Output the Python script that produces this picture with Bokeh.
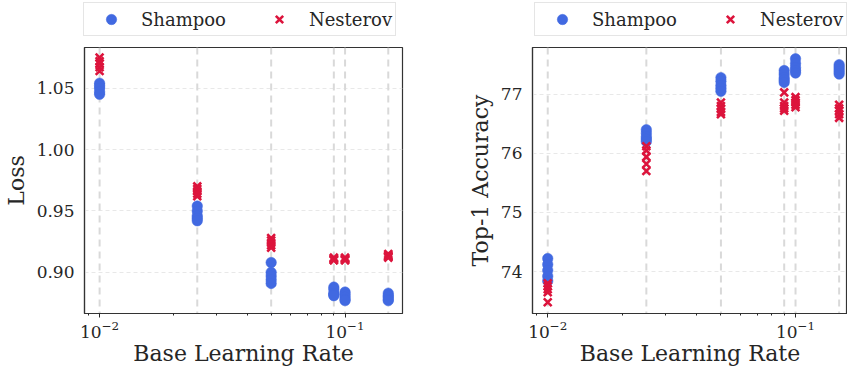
from bokeh.plotting import figure
from bokeh.models import (Range1d, FixedTicker, Span, Legend, LegendItem, LogTickFormatter,
                          NumeralTickFormatter)
from bokeh.layouts import row, column
from bokeh.embed import file_html
from bokeh.resources import INLINE

# ---------------- data ----------------
lrs = [0.01, 0.025, 0.05, 0.09, 0.1, 0.15]

loss_shampoo = [
    [1.054, 1.052, 1.050, 1.047, 1.045],
    [0.954, 0.950, 0.946, 0.944, 0.942],
    [0.908, 0.900, 0.897, 0.894, 0.891],
    [0.888, 0.886, 0.883, 0.882, 0.881],
    [0.884, 0.882, 0.880, 0.878, 0.877],
    [0.883, 0.881, 0.880, 0.878, 0.877],
]
loss_nesterov = [
    [1.075, 1.072, 1.070, 1.067, 1.064],
    [0.970, 0.968, 0.966, 0.964, 0.962],
    [0.928, 0.926, 0.924, 0.922, 0.920],
    [0.912, 0.911, 0.911, 0.910, 0.910],
    [0.912, 0.911, 0.911, 0.910, 0.910],
    [0.915, 0.914, 0.913, 0.913, 0.912],
]
acc_shampoo = [
    [74.22, 74.12, 74.02, 73.92, 73.84],
    [76.40, 76.34, 76.28, 76.24, 76.20],
    [77.28, 77.22, 77.15, 77.10, 77.05],
    [77.40, 77.34, 77.28, 77.24, 77.20],
    [77.60, 77.52, 77.45, 77.40, 77.36],
    [77.50, 77.46, 77.42, 77.38, 77.34],
]
acc_nesterov = [
    [73.80, 73.75, 73.70, 73.65, 73.48],
    [76.12, 76.05, 75.94, 75.82, 75.70],
    [76.86, 76.80, 76.75, 76.70, 76.66],
    [77.03, 76.86, 76.80, 76.76, 76.72],
    [76.95, 76.90, 76.86, 76.82, 76.78],
    [76.82, 76.76, 76.72, 76.66, 76.60],
]

loss_ticks = [0.90, 0.95, 1.00, 1.05]
acc_ticks = [74, 75, 76, 77]
x_major_ticks = [0.01, 0.1]
x_minor_ticks = [0.009, 0.02, 0.03, 0.04, 0.05, 0.06, 0.07, 0.08, 0.09, 0.2]
series_names = ["Shampoo", "Nesterov"]
xlabel = "Base Learning Rate"

# ---------------- styling ----------------
FONT = "DejaVu Serif"
TXT = "#262626"
BLUE = "#4169E1"
RED = "#DC143C"
CIRCLE_STYLE = dict(marker="circle", size=10.5, fill_color=BLUE, line_color=BLUE, line_width=0.5)
CROSS_STYLE = dict(marker="x", size=11, line_color=RED, line_width=2.6)


def flat(vals):
    xs, ys = [], []
    for lr, group in zip(lrs, vals):
        for v in group:
            xs.append(lr)
            ys.append(v)
    return xs, ys


def make_plot(shampoo, nesterov, yticks, yfmt, ylabel, xr, yr, width, border_left, border_right):
    p = figure(width=width, height=324, x_axis_type="log",
               x_range=Range1d(*xr), y_range=Range1d(*yr),
               output_backend="svg", toolbar_location=None,
               min_border_left=border_left, min_border_right=border_right,
               min_border_top=1, min_border_bottom=57)
    p.outline_line_color = "#333333"
    p.outline_line_width = 1.2
    p.background_fill_color = "white"
    p.border_fill_color = "white"

    # grid
    p.xgrid.grid_line_color = None
    p.ygrid.ticker = FixedTicker(ticks=yticks)
    p.ygrid.grid_line_color = "#e8e8e8"
    p.ygrid.grid_line_dash = "4 3"
    p.ygrid.grid_line_width = 1

    for lr in lrs:
        p.add_layout(Span(location=lr, dimension="height", line_color="#d9d9d9",
                          line_width=2, line_dash="7 5", level="underlay"))

    # axes
    p.yaxis.ticker = FixedTicker(ticks=yticks)
    p.yaxis.formatter = NumeralTickFormatter(format=yfmt)
    p.yaxis.major_tick_out = 0
    p.yaxis.major_tick_in = 0
    p.yaxis.minor_tick_out = 0
    p.yaxis.minor_tick_in = 0
    p.yaxis.major_label_standoff = 10
    p.yaxis.axis_label = ylabel
    p.yaxis.axis_label_standoff = 5

    p.xaxis.ticker = FixedTicker(ticks=x_major_ticks, minor_ticks=x_minor_ticks)
    p.xaxis.formatter = LogTickFormatter()
    p.xaxis.major_tick_out = 4
    p.xaxis.major_tick_in = 0
    p.xaxis.minor_tick_out = 2
    p.xaxis.minor_tick_in = 0
    p.xaxis.major_label_standoff = 3
    p.xaxis.axis_label = xlabel
    p.xaxis.axis_label_standoff = 0

    for ax in (p.xaxis[0], p.yaxis[0]):
        ax.axis_line_color = "#333333"
        ax.axis_line_width = 1.2
        ax.major_label_text_font = FONT
        ax.major_label_text_font_size = "17px"
        ax.major_label_text_color = TXT
        ax.axis_label_text_font = FONT
        ax.axis_label_text_font_size = "22px"
        ax.axis_label_text_font_style = "normal"
        ax.axis_label_text_color = TXT
    p.xaxis.major_tick_line_color = TXT
    p.xaxis.minor_tick_line_color = TXT
    p.yaxis.major_tick_line_color = None
    p.yaxis.minor_tick_line_color = None

    sx, sy = flat(shampoo)
    nx, ny = flat(nesterov)
    p.scatter(sx, sy, **CIRCLE_STYLE)
    p.scatter(nx, ny, **CROSS_STYLE)
    return p


def make_legend_fig(width, border_left, border_right):
    # a strip above the axes that only holds the legend box
    lf = figure(width=width, height=46, x_range=Range1d(0, 1), y_range=Range1d(0, 1),
                output_backend="svg", toolbar_location=None,
                x_axis_location=None, y_axis_location=None,
                min_border=0, min_border_left=border_left, min_border_right=border_right)
    lf.outline_line_color = None
    lf.xgrid.visible = False
    lf.ygrid.visible = False
    lf.background_fill_color = "white"
    lf.border_fill_color = "white"
    nan = float("nan")
    r1 = lf.scatter(x=[nan], y=[nan], **CIRCLE_STYLE)
    r2 = lf.scatter(x=[nan], y=[nan], **CROSS_STYLE)
    legend = Legend(items=[LegendItem(label=series_names[0], renderers=[r1]),
                           LegendItem(label=series_names[1], renderers=[r2])],
                    orientation="horizontal", location="top_left", margin=2,
                    padding=3, glyph_width=48, glyph_height=26, label_standoff=6, spacing=29,
                    label_text_font=FONT, label_text_font_size="18px", label_text_color=TXT,
                    border_line_color="#cccccc", border_line_width=1,
                    background_fill_color="white", background_fill_alpha=0.9)
    lf.add_layout(legend, "center")
    return lf


xr_left = (0.00868, 0.1714)
xr_right = (0.00868, 0.1621)
p1 = make_plot(loss_shampoo, loss_nesterov, loss_ticks, "0.00", "Loss",
               xr_left, (0.8665, 1.0831), 420, 81, 18)
p2 = make_plot(acc_shampoo, acc_nesterov, acc_ticks, "0", "Top-1 Accuracy",
               xr_right, (73.29, 77.79), 427, 112, 0)
l1 = make_legend_fig(420, 81, 18)
l2 = make_legend_fig(427, 112, 0)

layout = column(row(l1, l2), row(p1, p2))
open("out.html", "w").write(file_html(layout, INLINE))
